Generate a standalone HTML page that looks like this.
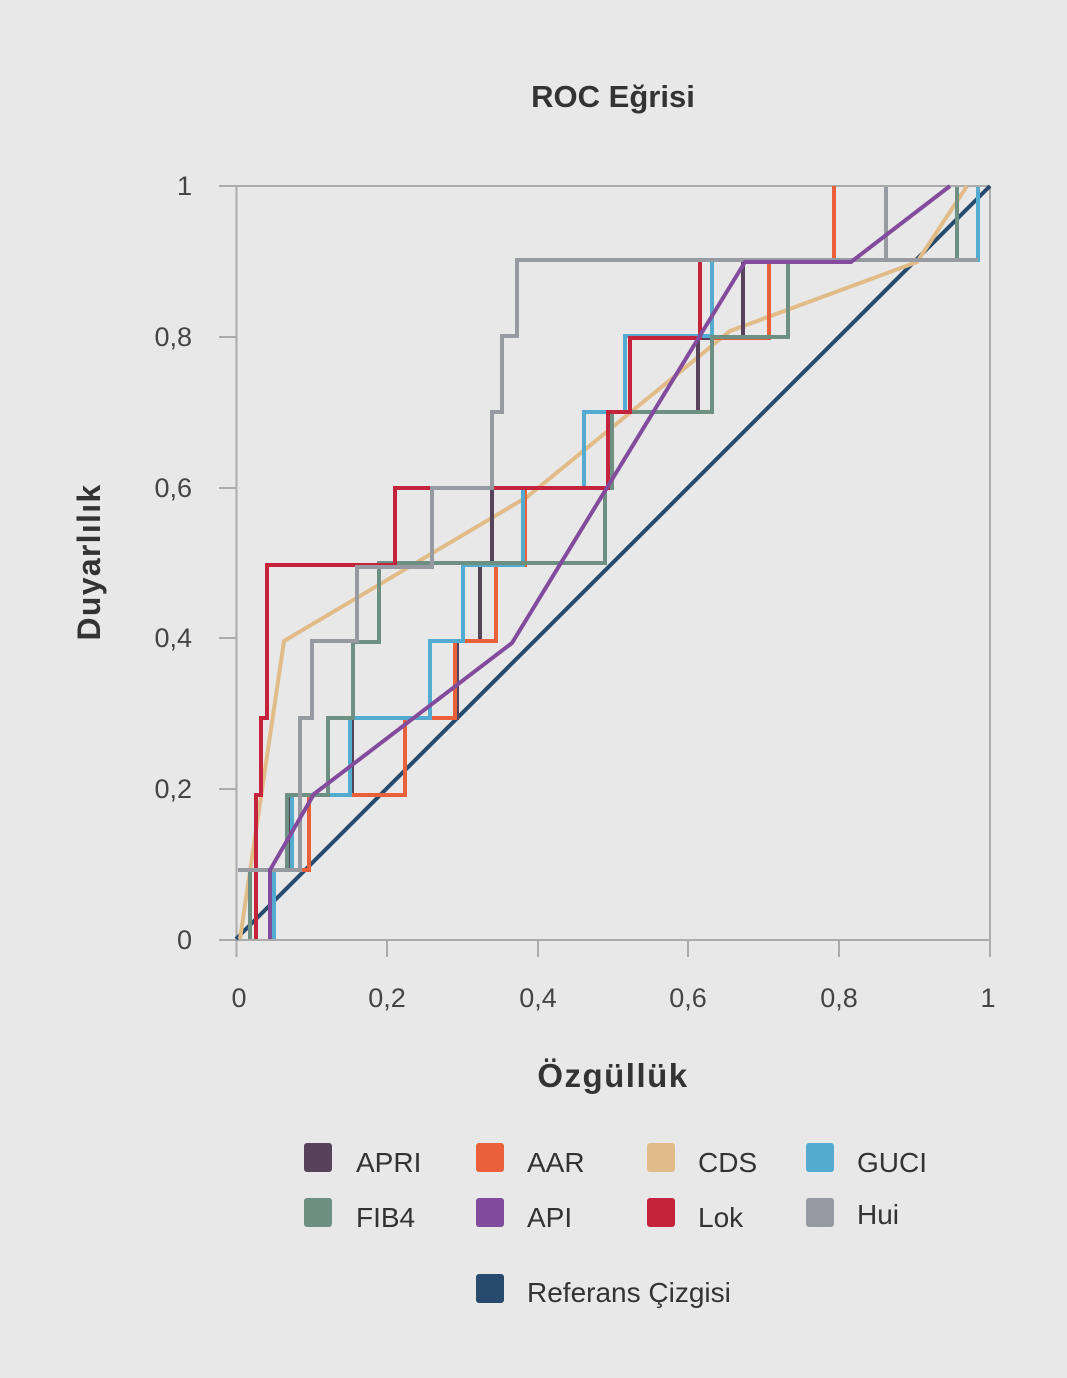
<!DOCTYPE html>
<html>
<head>
<meta charset="utf-8">
<style>
  html, body { margin:0; padding:0; background:#e8e8e8; }
  svg { display:block; }
  text { font-family: "Liberation Sans", "DejaVu Sans", sans-serif; }
</style>
</head>
<body>
<svg width="1067" height="1378" viewBox="0 0 1067 1378" xmlns="http://www.w3.org/2000/svg">
  <rect x="0" y="0" width="1067" height="1378" fill="#e8e8e8"/>

  <!-- Title -->
  <text x="613" y="107" text-anchor="middle" font-size="31" font-weight="bold" fill="#333">ROC Eğrisi</text>

  <!-- Axes frame -->
  <g stroke="#ababab" stroke-width="2" fill="none">
    <line x1="236.5" y1="186" x2="236.5" y2="957"/>
    <line x1="219" y1="940" x2="990" y2="940"/>
    <line x1="219" y1="186" x2="990" y2="186"/>
    <line x1="990" y1="186" x2="990" y2="957"/>
    <line x1="219" y1="337" x2="236" y2="337"/>
    <line x1="219" y1="488" x2="236" y2="488"/>
    <line x1="219" y1="638" x2="236" y2="638"/>
    <line x1="219" y1="789" x2="236" y2="789"/>
    <line x1="387" y1="940" x2="387" y2="957"/>
    <line x1="538" y1="940" x2="538" y2="957"/>
    <line x1="688" y1="940" x2="688" y2="957"/>
    <line x1="839" y1="940" x2="839" y2="957"/>
  </g>

  <!-- Y tick labels -->
  <g font-size="27" fill="#444" text-anchor="end">
    <text x="192" y="195">1</text>
    <text x="192" y="346">0,8</text>
    <text x="192" y="497">0,6</text>
    <text x="192" y="647">0,4</text>
    <text x="192" y="798">0,2</text>
    <text x="192" y="949">0</text>
  </g>
  <!-- X tick labels -->
  <g font-size="27" fill="#444" text-anchor="middle">
    <text x="239" y="1007">0</text>
    <text x="387" y="1007">0,2</text>
    <text x="538" y="1007">0,4</text>
    <text x="688" y="1007">0,6</text>
    <text x="839" y="1007">0,8</text>
    <text x="988" y="1007">1</text>
  </g>

  <!-- Axis titles -->
  <text x="613" y="1087" text-anchor="middle" font-size="33" font-weight="bold" fill="#333" letter-spacing="1.5">Özgüllük</text>
  <text transform="translate(100,562) rotate(-90)" x="0" y="0" text-anchor="middle" font-size="32" font-weight="bold" fill="#333" letter-spacing="1.3">Duyarlılık</text>

  <!-- Series -->
  <g fill="none" stroke-width="4" stroke-linejoin="miter" stroke-linecap="butt">
    <!-- Reference -->
    <path d="M236,939 L990,186" stroke="#274b6d"/>
    <!-- CDS -->
    <path d="M240,939 L284,641 L527,497 L730,331 L917,262 L967,186" stroke="#e2bc88"/>
    <!-- APRI -->
    <path d="M272,939 L272,870 L290,870 L290,795 L352,795 L352,718 L457,718 L457,641 L480,641 L480,565 L492,565 L492,488 L610,488 L610,412 L698,412 L698,338 L743,338 L743,260 L957,260 L957,187" stroke="#56435a"/>
    <!-- AAR -->
    <path d="M272,939 L272,870 L309,870 L309,795 L405,795 L405,718 L455,718 L455,641 L496,641 L496,565 L525,565 L525,488 L612,488 L612,412 L712,412 L712,338 L769,338 L769,260 L834,260 L834,186" stroke="#e8613a"/>
    <!-- GUCI -->
    <path d="M274,939 L274,870 L292,870 L292,795 L350,795 L350,718 L430,718 L430,641 L463,641 L463,565 L523,565 L523,488 L584,488 L584,412 L625,412 L625,336 L712,336 L712,260 L978,260 L978,187" stroke="#53acd0"/>
    <!-- FIB4 -->
    <path d="M250,939 L250,870 L287,870 L287,795 L328,795 L328,718 L353,718 L353,642 L379,642 L379,563 L605,563 L605,488 L612,488 L612,412 L712,412 L712,337 L788,337 L788,260 L957,260 L957,187" stroke="#6e9083"/>
    <!-- Lok -->
    <path d="M256,939 L256,795 L261,795 L261,718 L267,718 L267,565 L395,565 L395,488 L608,488 L608,412 L630,412 L630,338 L700,338 L700,260 L886,260 L886,187" stroke="#c4243b"/>
    <!-- Hui -->
    <path d="M238,870 L300,870 L300,718 L312,718 L312,641 L357,641 L357,567 L432,567 L432,488 L492,488 L492,412 L502,412 L502,336 L517,336 L517,260 L978,260 M886,260 L886,187" stroke="#979aa0"/>
    <!-- API -->
    <path d="M270,939 L270,870 L314,794 L512,643 L745,262 L851,262 L950,186" stroke="#834b9c"/>
  </g>

  <!-- Legend -->
  <g>
    <rect x="304" y="1143" width="28" height="29" rx="3" fill="#56435a"/>
    <rect x="476" y="1143" width="28" height="29" rx="3" fill="#e8613a"/>
    <rect x="647" y="1143" width="28" height="29" rx="3" fill="#e2bc88"/>
    <rect x="806" y="1143" width="28" height="29" rx="3" fill="#53acd0"/>
    <rect x="304" y="1198" width="28" height="29" rx="3" fill="#6e9083"/>
    <rect x="476" y="1198" width="28" height="29" rx="3" fill="#834b9c"/>
    <rect x="647" y="1198" width="28" height="29" rx="3" fill="#c4243b"/>
    <rect x="806" y="1198" width="28" height="29" rx="3" fill="#979aa0"/>
    <rect x="476" y="1274" width="28" height="29" rx="3" fill="#274b6d"/>
  </g>
  <g font-size="28" fill="#333">
    <text x="356" y="1172">APRI</text>
    <text x="527" y="1172">AAR</text>
    <text x="698" y="1172">CDS</text>
    <text x="857" y="1172">GUCI</text>
    <text x="356" y="1227">FIB4</text>
    <text x="527" y="1227">API</text>
    <text x="698" y="1227">Lok</text>
    <text x="857" y="1224">Hui</text>
    <text x="527" y="1302">Referans Çizgisi</text>
  </g>
</svg>
</body>
</html>
